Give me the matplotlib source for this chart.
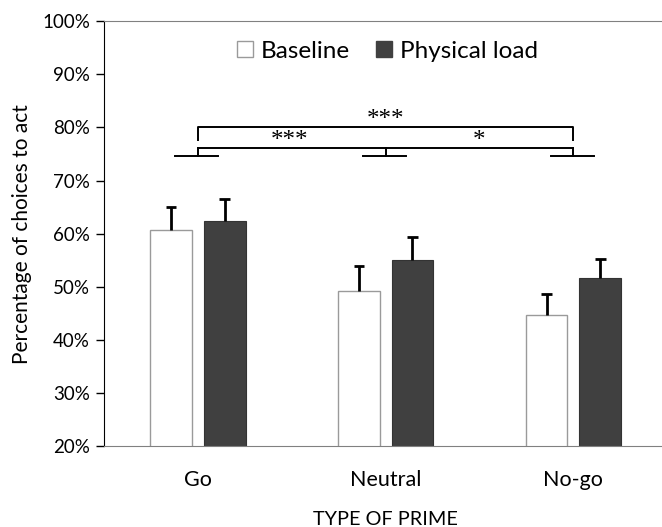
import matplotlib
matplotlib.use("Agg")
import matplotlib.pyplot as plt
from matplotlib.lines import Line2D
import numpy as np

plt.rcParams["font.family"] = ["Lato", "DejaVu Sans"]

# data
categories = ["Go", "Neutral", "No-go"]
baseline = [60.7, 49.2, 44.6]
baseline_err = [4.4, 4.7, 4.0]
physical = [62.4, 55.0, 51.6]
physical_err = [4.2, 4.3, 3.7]
series_labels = ["Baseline", "Physical load"]

# significance brackets (y levels in %)
base_level = 74.6
low_level = 76.2
high_level = 80.1
high_leg = 77.6
low_stars = ["***", "*"]
high_stars = "***"

DARK = "#404040"
EDGE_GRAY = "#9a9a9a"

fig = plt.figure(figsize=(6.62, 5.27), dpi=100)
ax = fig.add_axes([0.157, 0.1537, 0.851, 0.806])

x = np.arange(len(categories))
w = 0.223
off = 0.143


def upper_errbar(xs, tops, errs):
    # only the upper half of the error bar, as in the original figure
    tops = np.asarray(tops)
    ends = tops + np.asarray(errs)
    ax.vlines(xs, tops, ends, color="black", lw=2, zorder=3)
    ax.hlines(ends, xs - 0.028, xs + 0.028, color="black", lw=2, zorder=3)


ax.bar(x - off, baseline, w, color="white", edgecolor=EDGE_GRAY, linewidth=1, zorder=2)
ax.bar(x + off, physical, w, color=DARK, edgecolor="#333333", linewidth=0.8, zorder=2)
upper_errbar(x - off, baseline, baseline_err)
upper_errbar(x + off, physical, physical_err)

ax.set_ylim(20, 100)
ax.set_xlim(-0.5, 2.5)
ax.set_yticks(range(20, 101, 10))
ax.set_yticklabels([f"{v}%" for v in range(20, 101, 10)], fontsize=13.5)
ax.set_xticks(x)
ax.set_xticklabels(categories, fontsize=15.5)
ax.tick_params(axis="x", length=0, pad=17.5)
ax.tick_params(axis="y", direction="out", length=6, width=1, pad=4)
ax.set_ylabel("Percentage of choices to act", fontsize=15, labelpad=7)
ax.set_xlabel("TYPE OF PRIME", fontsize=14.3, labelpad=15)

ax.spines["right"].set_visible(False)
ax.spines["top"].set_color("#808080")
ax.spines["bottom"].set_color("#808080")
ax.spines["left"].set_color("black")

# brackets
lk = dict(color="black", lw=1.4, clip_on=False, solid_joinstyle="round")
for xi in x:
    ax.plot([xi - 0.12, xi + 0.11], [base_level, base_level], **lk)
    ax.plot([xi, xi], [base_level, low_level], **lk)
ax.plot([x[0], x[2]], [low_level, low_level], **lk)
ax.plot([x[0], x[0], x[2], x[2]], [high_leg, high_level, high_level, high_leg], **lk)

sf = dict(family=["Liberation Serif", "DejaVu Serif"], fontsize=18, ha="center", va="center")
ax.text((x[0] + x[1]) / 2 - 0.01, low_level + 1.2, low_stars[0], **sf)
ax.text((x[1] + x[2]) / 2, low_level + 1.2, low_stars[1], **sf)
ax.text((x[0] + x[2]) / 2, high_level + 1.3, high_stars, **sf)

handles = [
    Line2D([], [], marker="s", linestyle="none", markersize=12,
           markerfacecolor="white", markeredgecolor=EDGE_GRAY),
    Line2D([], [], marker="s", linestyle="none", markersize=12,
           markerfacecolor=DARK, markeredgecolor=DARK),
]
ax.legend(handles, series_labels, loc="upper center", bbox_to_anchor=(0.5, 1.005),
          ncol=2, frameon=False, fontsize=17.5, handletextpad=0.15, columnspacing=0.9,
          handlelength=1.0)

fig.savefig("out.png", dpi=100)
